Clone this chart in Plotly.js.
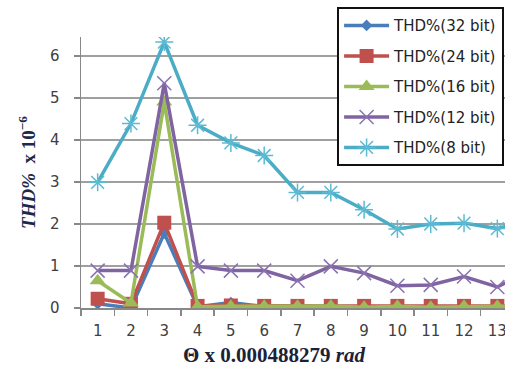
<!DOCTYPE html>
<html>
<head>
<meta charset="utf-8">
<script src="https://cdn.plot.ly/plotly-3.0.1.min.js"></script>
<style>html,body{margin:0;padding:0;background:#fff;}#chart{width:505px;height:371px;}</style>
</head>
<body>
<div id="chart"></div>
<script>
const categories = [1,2,3,4,5,6,7,8,9,10,11,12,13,14];
const tickLabels = ['1','2','3','4','5','6','7','8','9','10','11','12','13','14'];
const seriesNames = ['THD%(32 bit)','THD%(24 bit)','THD%(16 bit)','THD%(12 bit)','THD%(8 bit)'];
const thd32 = [0.10, 0.00, 1.78, 0.03, 0.13, 0.03, 0.03, 0.03, 0.03, 0.03, 0.03, 0.03, 0.03, 0.03];
const thd24 = [0.22, 0.10, 2.03, 0.05, 0.06, 0.05, 0.05, 0.05, 0.05, 0.05, 0.05, 0.05, 0.05, 0.05];
const thd16 = [0.65, 0.12, 4.90, 0.03, 0.04, 0.04, 0.04, 0.05, 0.02, 0.04, 0.02, 0.04, 0.04, 0.04];
const thd12 = [0.89, 0.89, 5.35, 0.99, 0.89, 0.89, 0.65, 0.99, 0.83, 0.53, 0.55, 0.75, 0.50, 0.90];
const thd8  = [2.99, 4.39, 6.33, 4.35, 3.93, 3.63, 2.75, 2.75, 2.34, 1.88, 2.00, 2.02, 1.89, 2.10];
const xTitle = '<b>Θ x 0.000488279 <i>rad</i></b>';
const yTitle = '<b><i>THD%</i>  x 10<sup>−6</sup></b>';

const colors = ['#4A7EBB','#C0504D','#9BBB59','#8064A2','#4BACC6'];
const values = [thd32, thd24, thd16, thd12, thd8];
const markers = [
  {symbol:'diamond', size:9, color:colors[0]},
  {symbol:'square', size:14, color:colors[1]},
  {symbol:'triangle-up', size:14, color:colors[2]},
  {symbol:'x-thin-open', size:14, color:'#8a72b0', line:{color:'#8a72b0', width:1.5}},
  {symbol:'asterisk-open', size:15, color:'#5cbad2', line:{color:'#5cbad2', width:1.5}}
];
const traces = values.map((v,i)=>({
  type:'scatter', mode:'lines+markers', x:categories, y:v, name:seriesNames[i],
  line:{color:colors[i], width:3.5}, marker:markers[i], cliponaxis:true,
  legendgroup:'g'+i
}));

const halfTicks = categories.map(c=>c-0.5).concat([categories.length+0.5]);

const layout = {
  width:505, height:371,
  margin:{l:81, r:0, t:37, b:63},
  paper_bgcolor:'#fff', plot_bgcolor:'#fff',
  showlegend:true,
  legend:{
    x:0.604, xanchor:'left', y:1.11, yanchor:'top',
    bgcolor:'#fff', bordercolor:'#111', borderwidth:2,
    font:{family:'DejaVu Sans', size:15, color:'#222'},
    traceorder:'grouped', tracegroupgap:8, itemwidth:45
  },
  xaxis:{
    range:[0.5, 13.23], tickmode:'array', tickvals:categories, ticktext:tickLabels,
    ticks:'', showgrid:false, zeroline:false, showline:true, linecolor:'#888', linewidth:1.5,
    tickfont:{family:'DejaVu Sans', size:15, color:'#404040'},
    ticklabelstandoff:8, ticklabeloverflow:'allow',
    minor:{tickmode:'array', tickvals:halfTicks, ticks:'outside', ticklen:6, tickcolor:'#888', tickwidth:1.5, showgrid:false}
  },
  yaxis:{
    range:[0, 6.45], tickmode:'array', tickvals:[0,1,2,3,4,5,6],
    ticks:'outside', ticklen:6, tickcolor:'#888', tickwidth:1.5,
    showgrid:true, gridcolor:'#a0a0a0', gridwidth:1.5, zeroline:false,
    showline:true, linecolor:'#888', linewidth:1.5,
    tickfont:{family:'DejaVu Sans', size:15, color:'#404040'},
    ticklabelstandoff:11,
    title:{text:yTitle, font:{family:'Liberation Serif', size:19, color:'#1b2a4a'}, standoff:9}
  },
  annotations:[{
    text:xTitle, xref:'paper', yref:'paper', x:0.4575, y:-0.173,
    xanchor:'center', yanchor:'middle', showarrow:false,
    font:{family:'Liberation Serif', size:21, color:'#1b2238'}
  }]
};
Plotly.newPlot('chart', traces, layout, {staticPlot:true, displayModeBar:false});
</script>
</body>
</html>
